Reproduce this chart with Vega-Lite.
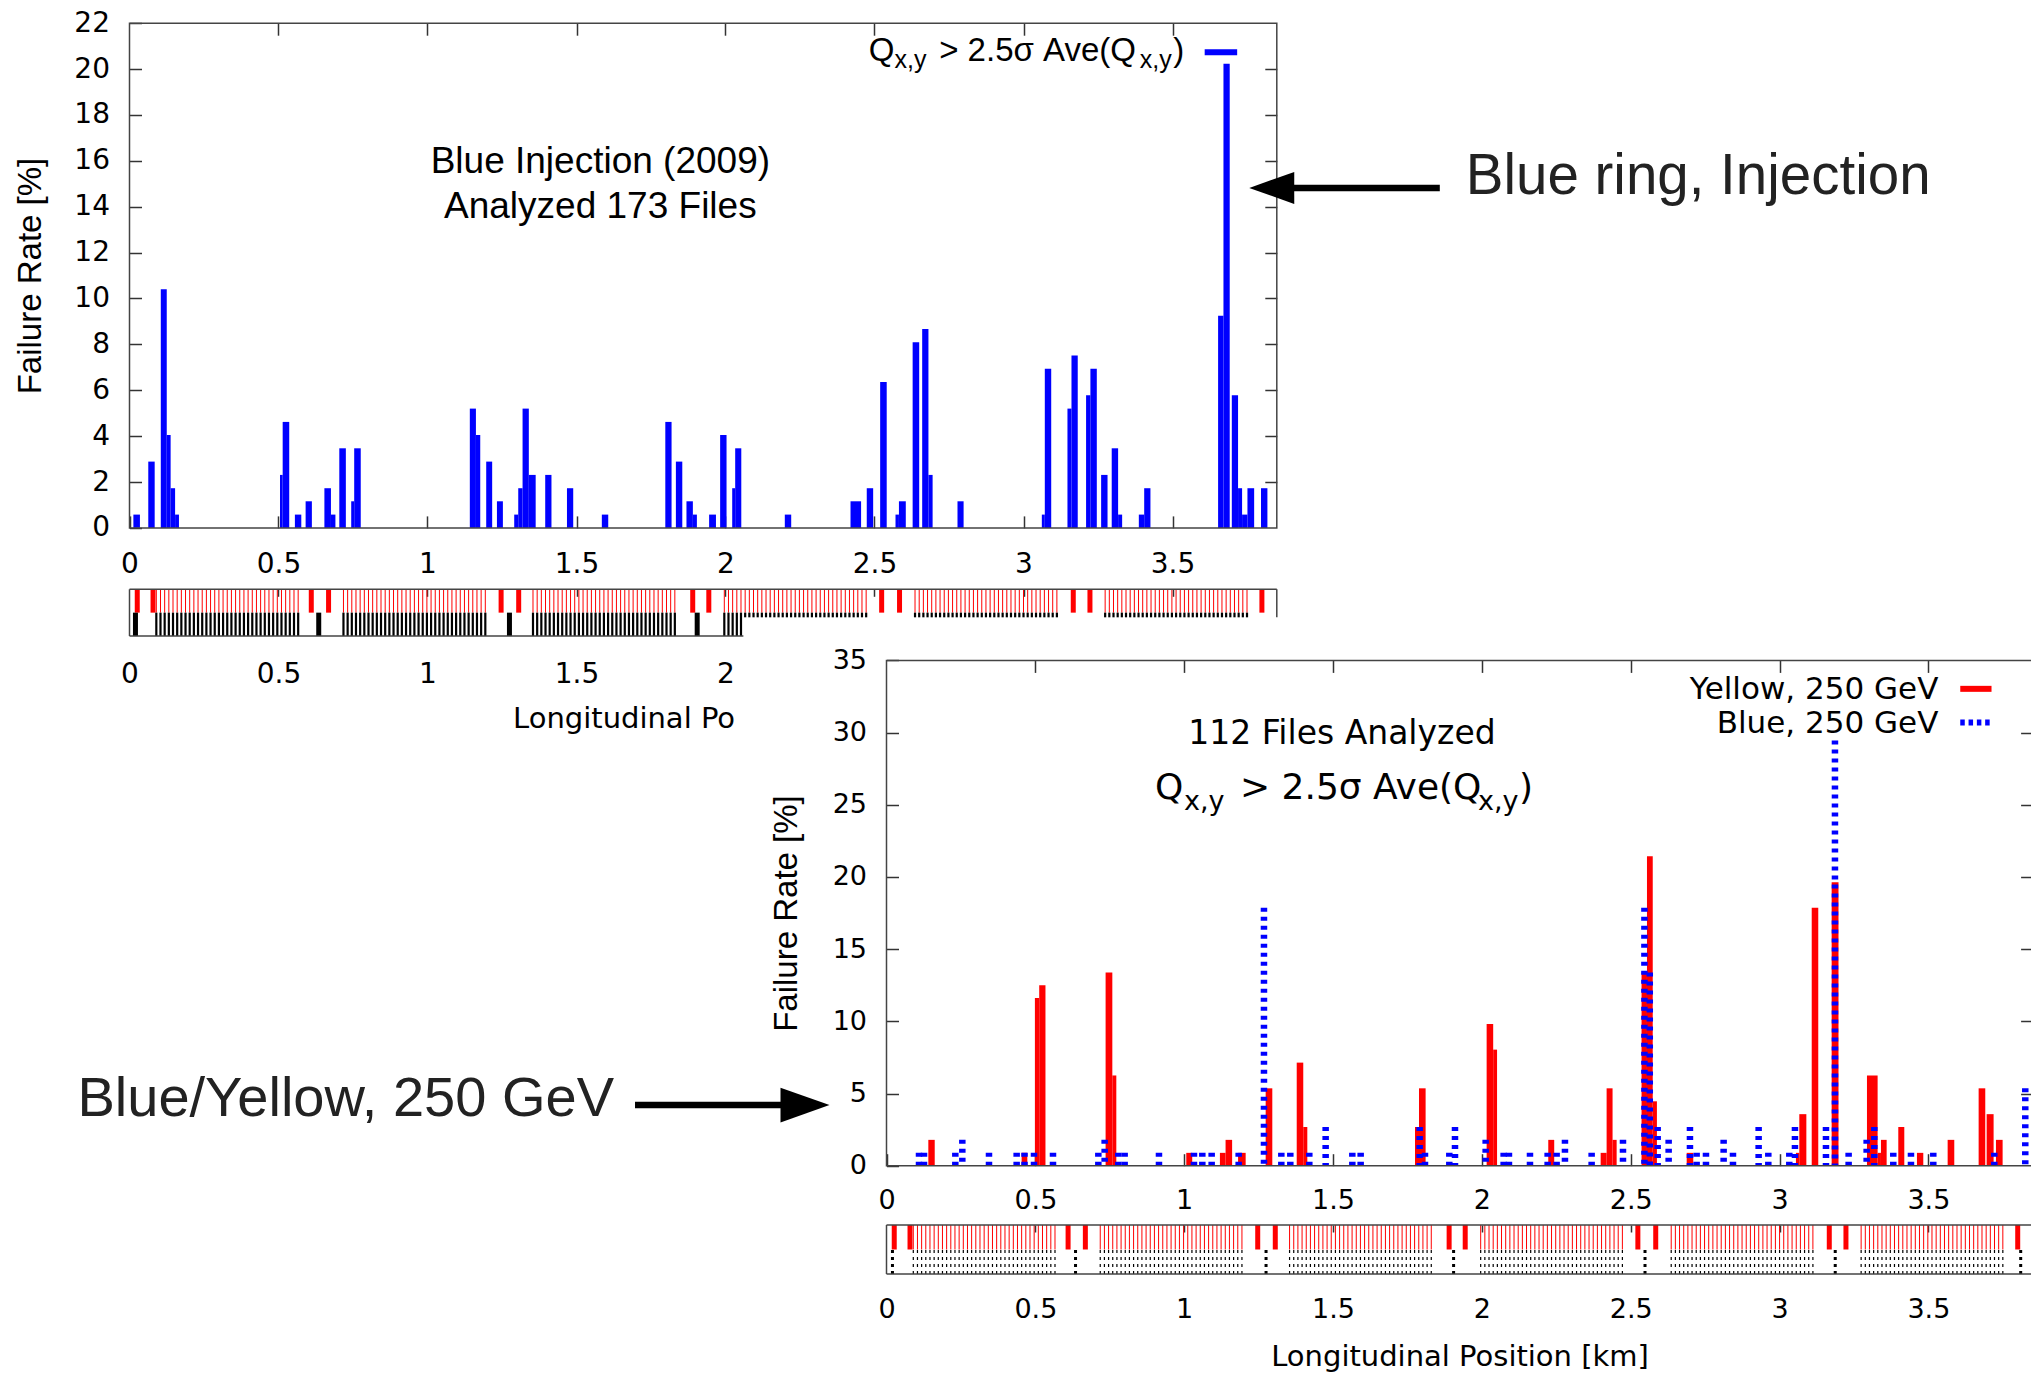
{
"$schema": "https://vega.github.io/schema/vega-lite/v6.json",
"width": 2031, "height": 1376, "autosize": "none", "padding": 0, "background": "white",
"config": {
  "view": {"stroke": null},
  "axis": {"grid": false, "domain": false, "labelFlush": false, "labelOverlap": false, "tickColor": "#333", "tickWidth": 1.5, "labelColor": "#000", "titleColor": "#000", "titleFontWeight": "normal", "labelFont": "DejaVu Sans", "titleFont": "Liberation Sans"},
  "text": {"font": "Liberation Sans", "color": "#000"}
},
"datasets": {
  "inj": [
    {"a":0.013,"b":0.035,"v":0.58},{"a":0.063,"b":0.0845,"v":2.89},{"a":0.105,"b":0.125,"v":10.40},{"a":0.125,"b":0.138,"v":4.05},{"a":0.138,"b":0.153,"v":1.73},{"a":0.153,"b":0.166,"v":0.58},
    {"a":0.505,"b":0.514,"v":2.31},{"a":0.514,"b":0.536,"v":4.62},{"a":0.555,"b":0.5765,"v":0.58},{"a":0.591,"b":0.612,"v":1.16},{"a":0.654,"b":0.676,"v":1.73},{"a":0.676,"b":0.691,"v":0.58},
    {"a":0.704,"b":0.726,"v":3.47},{"a":0.744,"b":0.754,"v":1.16},{"a":0.754,"b":0.776,"v":3.47},
    {"a":1.142,"b":1.1625,"v":5.20},{"a":1.1625,"b":1.177,"v":4.05},{"a":1.197,"b":1.217,"v":2.89},{"a":1.233,"b":1.253,"v":1.16},
    {"a":1.291,"b":1.3045,"v":0.58},{"a":1.3045,"b":1.319,"v":1.73},{"a":1.319,"b":1.340,"v":5.20},{"a":1.340,"b":1.363,"v":2.31},{"a":1.395,"b":1.416,"v":2.31},{"a":1.468,"b":1.489,"v":1.73},{"a":1.585,"b":1.6065,"v":0.58},
    {"a":1.798,"b":1.819,"v":4.62},{"a":1.8335,"b":1.855,"v":2.89},{"a":1.869,"b":1.8905,"v":1.16},{"a":1.8905,"b":1.904,"v":0.58},{"a":1.945,"b":1.968,"v":0.58},{"a":1.982,"b":2.0035,"v":4.05},{"a":2.0225,"b":2.0325,"v":1.73},{"a":2.0325,"b":2.053,"v":3.47},
    {"a":2.199,"b":2.2205,"v":0.58},{"a":2.4195,"b":2.455,"v":1.16},{"a":2.474,"b":2.4955,"v":1.73},{"a":2.519,"b":2.541,"v":6.36},{"a":2.5705,"b":2.582,"v":0.58},{"a":2.582,"b":2.605,"v":1.16},
    {"a":2.628,"b":2.650,"v":8.09},{"a":2.660,"b":2.681,"v":8.67},{"a":2.681,"b":2.695,"v":2.31},{"a":2.7785,"b":2.799,"v":1.16},
    {"a":3.0615,"b":3.0715,"v":0.58},{"a":3.0715,"b":3.093,"v":6.94},{"a":3.1475,"b":3.161,"v":5.20},{"a":3.161,"b":3.182,"v":7.51},{"a":3.210,"b":3.2245,"v":5.78},{"a":3.2245,"b":3.246,"v":6.94},
    {"a":3.2605,"b":3.282,"v":2.31},{"a":3.296,"b":3.3175,"v":3.47},{"a":3.3175,"b":3.331,"v":0.58},{"a":3.387,"b":3.405,"v":0.58},{"a":3.405,"b":3.426,"v":1.73},
    {"a":3.653,"b":3.671,"v":9.25},{"a":3.671,"b":3.692,"v":20.23},{"a":3.699,"b":3.720,"v":5.78},{"a":3.720,"b":3.7335,"v":1.73},{"a":3.7335,"b":3.7515,"v":0.58},{"a":3.7515,"b":3.774,"v":1.73},{"a":3.797,"b":3.8185,"v":1.73}
  ],
  "yel": [
    {"a":0.1405,"b":0.162,"v":1.79},{"a":0.454,"b":0.473,"v":0.89},{"a":0.4985,"b":0.513,"v":11.61},{"a":0.513,"b":0.534,"v":12.50},{"a":0.736,"b":0.7586,"v":13.39},{"a":0.7586,"b":0.772,"v":6.25},
    {"a":1.007,"b":1.027,"v":0.89},{"a":1.120,"b":1.139,"v":0.89},{"a":1.139,"b":1.161,"v":1.79},{"a":1.181,"b":1.2065,"v":0.89},{"a":1.2737,"b":1.296,"v":5.36},
    {"a":1.378,"b":1.400,"v":7.14},{"a":1.400,"b":1.4136,"v":2.68},{"a":1.7753,"b":1.7887,"v":2.68},{"a":1.7887,"b":1.811,"v":5.36},
    {"a":2.016,"b":2.038,"v":9.82},{"a":2.038,"b":2.051,"v":8.04},{"a":2.223,"b":2.243,"v":1.79},{"a":2.399,"b":2.419,"v":0.89},{"a":2.419,"b":2.439,"v":5.36},{"a":2.439,"b":2.4527,"v":1.79},
    {"a":2.5364,"b":2.5546,"v":13.39},{"a":2.5546,"b":2.574,"v":21.43},{"a":2.574,"b":2.588,"v":4.46},{"a":2.688,"b":2.710,"v":0.89},
    {"a":3.055,"b":3.0663,"v":0.89},{"a":3.0663,"b":3.090,"v":3.57},{"a":3.108,"b":3.130,"v":17.86},{"a":3.175,"b":3.198,"v":19.64},
    {"a":3.2936,"b":3.3294,"v":6.25},{"a":3.3294,"b":3.3406,"v":0.89},{"a":3.3406,"b":3.3597,"v":1.79},{"a":3.3988,"b":3.419,"v":2.68},{"a":3.4615,"b":3.4828,"v":0.89},
    {"a":3.5646,"b":3.5869,"v":1.79},{"a":3.6687,"b":3.691,"v":5.36},{"a":3.6956,"b":3.719,"v":3.57},{"a":3.7269,"b":3.7493,"v":1.79}
  ],
  "blu": [
    {"c":0.1092,"v":0.89},{"c":0.126,"v":0.89},{"c":0.2312,"v":0.89},{"c":0.2547,"v":1.79},{"c":0.3443,"v":0.89},{"c":0.4372,"v":0.89},{"c":0.4636,"v":0.89},{"c":0.4955,"v":0.89},{"c":0.5593,"v":0.89},
    {"c":0.7116,"v":0.89},{"c":0.7328,"v":1.79},{"c":0.7787,"v":0.89},{"c":0.800,"v":0.89},{"c":0.9153,"v":0.89},{"c":1.0329,"v":0.89},{"c":1.0609,"v":0.89},{"c":1.0923,"v":0.89},{"c":1.183,"v":0.89},
    {"c":1.268,"v":17.86},{"c":1.3263,"v":0.89},{"c":1.3565,"v":0.89},{"c":1.4203,"v":0.89},{"c":1.4752,"v":2.68},{"c":1.5648,"v":0.89},{"c":1.5928,"v":0.89},
    {"c":1.791,"v":2.68},{"c":1.8089,"v":0.89},{"c":1.8906,"v":0.89},{"c":1.9097,"v":2.68},{"c":2.0127,"v":1.79},{"c":2.0731,"v":0.89},{"c":2.091,"v":0.89},{"c":2.1616,"v":0.89},
    {"c":2.2209,"v":0.89},{"c":2.2511,"v":0.89},{"c":2.2791,"v":1.79},{"c":2.3687,"v":0.89},{"c":2.474,"v":1.79},{"c":2.546,"v":17.86},{"c":2.564,"v":13.39},{"c":2.5905,"v":2.68},
    {"c":2.6274,"v":1.79},{"c":2.699,"v":2.68},{"c":2.7214,"v":0.89},{"c":2.7528,"v":0.89},{"c":2.8121,"v":1.79},{"c":2.8435,"v":0.89},{"c":2.9297,"v":2.68},{"c":2.9622,"v":0.89},
    {"c":3.0327,"v":0.89},{"c":3.0517,"v":2.68},{"c":3.1559,"v":2.68},{"c":3.1861,"v":29.46},{"c":3.232,"v":0.89},{"c":3.2925,"v":1.79},{"c":3.3182,"v":2.68},{"c":3.382,"v":0.89},
    {"c":3.4414,"v":0.89},{"c":3.5164,"v":0.89},{"c":3.7213,"v":0.89},{"c":3.8254,"v":5.36}
  ],
  "lat": [
    {"s":0.090},{"s":0.104},{"s":0.118},{"s":0.132},{"s":0.146},{"s":0.160},{"s":0.174},{"s":0.188},{"s":0.202},{"s":0.216},{"s":0.230},{"s":0.244},{"s":0.258},{"s":0.272},{"s":0.286},{"s":0.300},{"s":0.314},{"s":0.328},{"s":0.342},{"s":0.356},{"s":0.370},{"s":0.384},{"s":0.398},{"s":0.412},{"s":0.426},{"s":0.440},{"s":0.454},{"s":0.468},{"s":0.482},{"s":0.496},{"s":0.510},{"s":0.524},{"s":0.538},{"s":0.552},{"s":0.566},
    {"s":0.718},{"s":0.732},{"s":0.746},{"s":0.760},{"s":0.774},{"s":0.788},{"s":0.802},{"s":0.816},{"s":0.830},{"s":0.844},{"s":0.858},{"s":0.872},{"s":0.886},{"s":0.900},{"s":0.914},{"s":0.928},{"s":0.942},{"s":0.956},{"s":0.970},{"s":0.984},{"s":0.998},{"s":1.012},{"s":1.026},{"s":1.040},{"s":1.054},{"s":1.068},{"s":1.082},{"s":1.096},{"s":1.110},{"s":1.124},{"s":1.138},{"s":1.152},{"s":1.166},{"s":1.180},{"s":1.194},
    {"s":1.354},{"s":1.368},{"s":1.382},{"s":1.396},{"s":1.410},{"s":1.424},{"s":1.438},{"s":1.452},{"s":1.466},{"s":1.480},{"s":1.494},{"s":1.508},{"s":1.522},{"s":1.536},{"s":1.550},{"s":1.564},{"s":1.578},{"s":1.592},{"s":1.606},{"s":1.620},{"s":1.634},{"s":1.648},{"s":1.662},{"s":1.676},{"s":1.690},{"s":1.704},{"s":1.718},{"s":1.732},{"s":1.746},{"s":1.760},{"s":1.774},{"s":1.788},{"s":1.802},{"s":1.816},{"s":1.830},
    {"s":1.996},{"s":2.010},{"s":2.024},{"s":2.038},{"s":2.052},{"s":2.066},{"s":2.080},{"s":2.094},{"s":2.108},{"s":2.122},{"s":2.136},{"s":2.150},{"s":2.164},{"s":2.178},{"s":2.192},{"s":2.206},{"s":2.220},{"s":2.234},{"s":2.248},{"s":2.262},{"s":2.276},{"s":2.290},{"s":2.304},{"s":2.318},{"s":2.332},{"s":2.346},{"s":2.360},{"s":2.374},{"s":2.388},{"s":2.402},{"s":2.416},{"s":2.430},{"s":2.444},{"s":2.458},{"s":2.472},
    {"s":2.636},{"s":2.650},{"s":2.664},{"s":2.678},{"s":2.692},{"s":2.706},{"s":2.720},{"s":2.734},{"s":2.748},{"s":2.762},{"s":2.776},{"s":2.790},{"s":2.804},{"s":2.818},{"s":2.832},{"s":2.846},{"s":2.860},{"s":2.874},{"s":2.888},{"s":2.902},{"s":2.916},{"s":2.930},{"s":2.944},{"s":2.958},{"s":2.972},{"s":2.986},{"s":3.000},{"s":3.014},{"s":3.028},{"s":3.042},{"s":3.056},{"s":3.070},{"s":3.084},{"s":3.098},{"s":3.112},
    {"s":3.274},{"s":3.288},{"s":3.302},{"s":3.316},{"s":3.330},{"s":3.344},{"s":3.358},{"s":3.372},{"s":3.386},{"s":3.400},{"s":3.414},{"s":3.428},{"s":3.442},{"s":3.456},{"s":3.470},{"s":3.484},{"s":3.498},{"s":3.512},{"s":3.526},{"s":3.540},{"s":3.554},{"s":3.568},{"s":3.582},{"s":3.596},{"s":3.610},{"s":3.624},{"s":3.638},{"s":3.652},{"s":3.666},{"s":3.680},{"s":3.694},{"s":3.708},{"s":3.722},{"s":3.736},{"s":3.750}
  ],
  "thk": [{"s":0.026},{"s":0.079},{"s":0.61},{"s":0.668},{"s":1.247},{"s":1.306},{"s":1.89},{"s":1.944},{"s":2.524},{"s":2.584},{"s":3.167},{"s":3.223},{"s":3.80}],
  "irb": [{"s":0.02},{"s":0.635},{"s":1.275},{"s":1.905},{"s":2.548},{"s":3.187},{"s":3.81}]
},
"layer": [
 {
  "layer": [
   {"data": {"name": "inj"}, "mark": {"type": "rect", "color": "#0000ff"},
    "encoding": {
     "x": {"field": "a", "type": "quantitative", "scale": {"domain": [0, 3.85], "range": [129.5, 1276.8], "nice": false, "zero": false},
           "axis": {"orient": "bottom", "offset": -848.1, "values": [0,0.5,1,1.5,2,2.5,3,3.5], "format": ".2~g", "tickSize": -12, "labelPadding": 35, "labelFontSize": 28, "title": null}},
     "x2": {"field": "b"},
     "y": {"field": "v", "type": "quantitative", "scale": {"domain": [0, 22], "range": [527.9, 23.2], "nice": false, "zero": false},
           "axis": {"orient": "left", "offset": -129.5, "values": [0,2,4,6,8,10,12,14,16,18,20,22], "format": "d", "tickSize": -12, "labelPadding": 32, "labelFontSize": 28, "title": "Failure Rate [%]", "titleFontSize": 33, "titlePadding": 26}},
     "y2": {"datum": 0}}},
   {"data": {"values": [{}]}, "mark": {"type": "rect", "fill": "transparent", "stroke": "#444", "strokeWidth": 1.5},
    "encoding": {
     "x": {"datum": 0, "type": "quantitative", "scale": {"domain": [0, 3.85], "range": [129.5, 1276.8], "nice": false, "zero": false},
           "axis": {"orient": "top", "offset": -23.2, "values": [0.5,1,1.5,2,2.5,3,3.5], "tickSize": -12, "labels": false, "title": null}},
     "x2": {"datum": 3.85},
     "y": {"datum": 0, "type": "quantitative", "scale": {"domain": [0, 22], "range": [527.9, 23.2], "nice": false, "zero": false},
           "axis": {"orient": "right", "offset": -754.2, "values": [2,4,6,8,10,12,14,16,18,20], "tickSize": -12, "labels": false, "title": null}},
     "y2": {"datum": 22}}},
   {"data": {"values": [{}]}, "mark": {"type": "text", "text": "Blue Injection (2009)", "fontSize": 37, "align": "center", "baseline": "alphabetic"},
    "encoding": {"x": {"datum": 1.58, "type": "quantitative", "scale": {"domain": [0, 3.85], "range": [129.5, 1276.8], "nice": false, "zero": false}, "axis": null},
                 "y": {"datum": 15.46, "type": "quantitative", "scale": {"domain": [0, 22], "range": [527.9, 23.2], "nice": false, "zero": false}, "axis": null}}},
   {"data": {"values": [{}]}, "mark": {"type": "text", "text": "Analyzed 173 Files", "fontSize": 37, "align": "center", "baseline": "alphabetic"},
    "encoding": {"x": {"datum": 1.58, "type": "quantitative", "scale": {"domain": [0, 3.85], "range": [129.5, 1276.8], "nice": false, "zero": false}, "axis": null},
                 "y": {"datum": 13.52, "type": "quantitative", "scale": {"domain": [0, 22], "range": [527.9, 23.2], "nice": false, "zero": false}, "axis": null}}},
   {"data": {"values": [{}]}, "mark": {"type": "text", "text": "Q", "fontSize": 33, "align": "left", "baseline": "alphabetic"},
    "encoding": {"x": {"datum": 2.4811, "type": "quantitative", "scale": {"domain": [0, 3.85], "range": [129.5, 1276.8], "nice": false, "zero": false}, "axis": null},
                 "y": {"datum": 20.37, "type": "quantitative", "scale": {"domain": [0, 22], "range": [527.9, 23.2], "nice": false, "zero": false}, "axis": null}}},
   {"data": {"values": [{}]}, "mark": {"type": "text", "text": "x,y", "fontSize": 25, "align": "left", "baseline": "alphabetic"},
    "encoding": {"x": {"datum": 2.5669, "type": "quantitative", "scale": {"domain": [0, 3.85], "range": [129.5, 1276.8], "nice": false, "zero": false}, "axis": null},
                 "y": {"datum": 20.06, "type": "quantitative", "scale": {"domain": [0, 22], "range": [527.9, 23.2], "nice": false, "zero": false}, "axis": null}}},
   {"data": {"values": [{}]}, "mark": {"type": "text", "text": "> 2.5σ Ave(Q", "fontSize": 33, "align": "left", "baseline": "alphabetic"},
    "encoding": {"x": {"datum": 2.717, "type": "quantitative", "scale": {"domain": [0, 3.85], "range": [129.5, 1276.8], "nice": false, "zero": false}, "axis": null},
                 "y": {"datum": 20.37, "type": "quantitative", "scale": {"domain": [0, 22], "range": [527.9, 23.2], "nice": false, "zero": false}, "axis": null}}},
   {"data": {"values": [{}]}, "mark": {"type": "text", "text": "x,y", "fontSize": 25, "align": "left", "baseline": "alphabetic"},
    "encoding": {"x": {"datum": 3.3902, "type": "quantitative", "scale": {"domain": [0, 3.85], "range": [129.5, 1276.8], "nice": false, "zero": false}, "axis": null},
                 "y": {"datum": 20.06, "type": "quantitative", "scale": {"domain": [0, 22], "range": [527.9, 23.2], "nice": false, "zero": false}, "axis": null}}},
   {"data": {"values": [{}]}, "mark": {"type": "text", "text": ")", "fontSize": 33, "align": "left", "baseline": "alphabetic"},
    "encoding": {"x": {"datum": 3.5029, "type": "quantitative", "scale": {"domain": [0, 3.85], "range": [129.5, 1276.8], "nice": false, "zero": false}, "axis": null},
                 "y": {"datum": 20.37, "type": "quantitative", "scale": {"domain": [0, 22], "range": [527.9, 23.2], "nice": false, "zero": false}, "axis": null}}},
   {"data": {"values": [{}]}, "mark": {"type": "rule", "stroke": "#0000ff", "strokeWidth": 6},
    "encoding": {"x": {"datum": 3.608, "type": "quantitative", "scale": {"domain": [0, 3.85], "range": [129.5, 1276.8], "nice": false, "zero": false}, "axis": null},
                 "x2": {"datum": 3.717},
                 "y": {"datum": 20.73, "type": "quantitative", "scale": {"domain": [0, 22], "range": [527.9, 23.2], "nice": false, "zero": false}, "axis": null}}},
   {"data": {"values": [{}]}, "mark": {"type": "rule", "stroke": "#000", "strokeWidth": 6.5},
    "encoding": {"x": {"datum": 3.833, "type": "quantitative", "scale": {"domain": [0, 3.85], "range": [129.5, 1276.8], "nice": false, "zero": false}, "axis": null},
                 "x2": {"datum": 4.397},
                 "y": {"datum": 14.82, "type": "quantitative", "scale": {"domain": [0, 22], "range": [527.9, 23.2], "nice": false, "zero": false}, "axis": null}}},
   {"data": {"values": [{}]}, "mark": {"type": "point", "shape": "M-1,0L1,-0.71L1,0.71Z", "size": 2025, "filled": true, "color": "#000", "opacity": 1, "strokeWidth": 0},
    "encoding": {"x": {"datum": 3.833, "type": "quantitative", "scale": {"domain": [0, 3.85], "range": [129.5, 1276.8], "nice": false, "zero": false}, "axis": null},
                 "y": {"datum": 14.82, "type": "quantitative", "scale": {"domain": [0, 22], "range": [527.9, 23.2], "nice": false, "zero": false}, "axis": null}}},
   {"data": {"values": [{}]}, "mark": {"type": "text", "text": "Blue ring, Injection", "fontSize": 56.5, "align": "left", "baseline": "alphabetic", "color": "#222"},
    "encoding": {"x": {"datum": 4.484, "type": "quantitative", "scale": {"domain": [0, 3.85], "range": [129.5, 1276.8], "nice": false, "zero": false}, "axis": null},
                 "y": {"datum": 14.56, "type": "quantitative", "scale": {"domain": [0, 22], "range": [527.9, 23.2], "nice": false, "zero": false}, "axis": null}}}
  ],
  "resolve": {"scale": {"x": "shared", "y": "shared"}, "axis": {"x": "independent", "y": "independent"}}
 },
 {
  "layer": [
   {"data": {"name": "lat"}, "mark": {"type": "rule", "stroke": "#ff0000", "strokeWidth": 1},
    "encoding": {
     "x": {"field": "s", "type": "quantitative", "scale": {"domain": [0, 3.85], "range": [129.5, 1276.8], "nice": false, "zero": false},
           "axis": {"orient": "bottom", "offset": -740, "values": [0,0.5,1,1.5,2], "format": ".2~g", "ticks": false, "labelPadding": 24, "labelFontSize": 28, "title": null}},
     "y": {"datum": 1, "type": "quantitative", "scale": {"domain": [0, 2], "range": [636, 589.3], "nice": false, "zero": false}, "axis": null},
     "y2": {"datum": 2}}},
   {"data": {"name": "thk"}, "mark": {"type": "rule", "stroke": "#ff0000", "strokeWidth": 5},
    "encoding": {
     "x": {"field": "s", "type": "quantitative", "scale": {"domain": [0, 3.85], "range": [129.5, 1276.8], "nice": false, "zero": false}, "axis": null},
     "y": {"datum": 1, "type": "quantitative", "scale": {"domain": [0, 2], "range": [636, 589.3], "nice": false, "zero": false}, "axis": null},
     "y2": {"datum": 2}}},
   {"data": {"name": "lat"}, "transform": [{"filter": "datum.s < 2.06"}], "mark": {"type": "rule", "stroke": "#000", "strokeWidth": 2.2},
    "encoding": {
     "x": {"field": "s", "type": "quantitative", "scale": {"domain": [0, 3.85], "range": [129.5, 1276.8], "nice": false, "zero": false}, "axis": null},
     "y": {"datum": 0, "type": "quantitative", "scale": {"domain": [0, 2], "range": [636, 589.3], "nice": false, "zero": false}, "axis": null},
     "y2": {"datum": 1}}},
   {"data": {"name": "lat"}, "transform": [{"filter": "datum.s >= 2.06"}], "mark": {"type": "rule", "stroke": "#000", "strokeWidth": 2.2},
    "encoding": {
     "x": {"field": "s", "type": "quantitative", "scale": {"domain": [0, 3.85], "range": [129.5, 1276.8], "nice": false, "zero": false}, "axis": null},
     "y": {"datum": 0.8, "type": "quantitative", "scale": {"domain": [0, 2], "range": [636, 589.3], "nice": false, "zero": false}, "axis": null},
     "y2": {"datum": 1}}},
   {"data": {"name": "irb"}, "transform": [{"filter": "datum.s < 2.06"}], "mark": {"type": "rule", "stroke": "#000", "strokeWidth": 5},
    "encoding": {
     "x": {"field": "s", "type": "quantitative", "scale": {"domain": [0, 3.85], "range": [129.5, 1276.8], "nice": false, "zero": false}, "axis": null},
     "y": {"datum": 0, "type": "quantitative", "scale": {"domain": [0, 2], "range": [636, 589.3], "nice": false, "zero": false}, "axis": null},
     "y2": {"datum": 1}}},
   {"data": {"values": [{}]}, "mark": {"type": "rule", "stroke": "#444", "strokeWidth": 1.5},
    "encoding": {
     "x": {"datum": 0, "type": "quantitative", "scale": {"domain": [0, 3.85], "range": [129.5, 1276.8], "nice": false, "zero": false},
           "axis": {"orient": "top", "offset": -589.3, "values": [0.5,1,1.5,2,2.5,3,3.5], "tickSize": -7, "labels": false, "title": null}},
     "x2": {"datum": 3.85},
     "y": {"datum": 2, "type": "quantitative", "scale": {"domain": [0, 2], "range": [636, 589.3], "nice": false, "zero": false}, "axis": null}}},
   {"data": {"values": [{}]}, "mark": {"type": "rule", "stroke": "#444", "strokeWidth": 1.5},
    "encoding": {
     "x": {"datum": 0, "type": "quantitative", "scale": {"domain": [0, 3.85], "range": [129.5, 1276.8], "nice": false, "zero": false}, "axis": null},
     "x2": {"datum": 2.06},
     "y": {"datum": 0, "type": "quantitative", "scale": {"domain": [0, 2], "range": [636, 589.3], "nice": false, "zero": false}, "axis": null}}},
   {"data": {"values": [{}]}, "mark": {"type": "rule", "stroke": "#444", "strokeWidth": 1.5},
    "encoding": {
     "x": {"datum": 0, "type": "quantitative", "scale": {"domain": [0, 3.85], "range": [129.5, 1276.8], "nice": false, "zero": false}, "axis": null},
     "y": {"datum": 0, "type": "quantitative", "scale": {"domain": [0, 2], "range": [636, 589.3], "nice": false, "zero": false}, "axis": null},
     "y2": {"datum": 2}}},
   {"data": {"values": [{}]}, "mark": {"type": "rule", "stroke": "#444", "strokeWidth": 1.5},
    "encoding": {
     "x": {"datum": 3.85, "type": "quantitative", "scale": {"domain": [0, 3.85], "range": [129.5, 1276.8], "nice": false, "zero": false}, "axis": null},
     "y": {"datum": 0.8, "type": "quantitative", "scale": {"domain": [0, 2], "range": [636, 589.3], "nice": false, "zero": false}, "axis": null},
     "y2": {"datum": 2}}},
   {"data": {"values": [{}]}, "mark": {"type": "text", "text": "Longitudinal Po", "font": "DejaVu Sans", "fontSize": 29, "align": "left", "baseline": "middle"},
    "encoding": {
     "x": {"datum": 1.287, "type": "quantitative", "scale": {"domain": [0, 3.85], "range": [129.5, 1276.8], "nice": false, "zero": false}, "axis": null},
     "y": {"datum": -3.555, "type": "quantitative", "scale": {"domain": [0, 2], "range": [636, 589.3], "nice": false, "zero": false}, "axis": null}}}
  ],
  "resolve": {"scale": {"x": "shared", "y": "shared"}, "axis": {"x": "independent", "y": "independent"}}
 },
 {
  "layer": [
   {"data": {"name": "yel"}, "mark": {"type": "rect", "color": "#ff0000"},
    "encoding": {
     "x": {"field": "a", "type": "quantitative", "scale": {"domain": [0, 3.85], "range": [886.5, 2032.6], "nice": false, "zero": false},
           "axis": {"orient": "bottom", "offset": -210.3, "values": [0,0.5,1,1.5,2,2.5,3,3.5], "format": ".2~g", "tickSize": -12, "labelPadding": 34, "labelFontSize": 27, "title": null}},
     "x2": {"field": "b"},
     "y": {"field": "v", "type": "quantitative", "scale": {"domain": [0, 35], "range": [1165.7, 660.4], "nice": false, "zero": false},
           "axis": {"orient": "left", "offset": -886.5, "values": [0,5,10,15,20,25,30,35], "format": "d", "tickSize": -12, "labelPadding": 32, "labelFontSize": 27, "title": "Failure Rate [%]", "titleFontSize": 33, "titlePadding": 29}},
     "y2": {"datum": 0}}},
   {"data": {"name": "blu"}, "mark": {"type": "rule", "stroke": "#0000ff", "strokeWidth": 6.5, "strokeDash": [4, 5], "strokeCap": "butt"},
    "encoding": {
     "x": {"field": "c", "type": "quantitative", "scale": {"domain": [0, 3.85], "range": [886.5, 2032.6], "nice": false, "zero": false}, "axis": null},
     "y": {"field": "v", "type": "quantitative", "scale": {"domain": [0, 35], "range": [1165.7, 660.4], "nice": false, "zero": false}, "axis": null},
     "y2": {"datum": 0}}},
   {"data": {"values": [{}]}, "mark": {"type": "rect", "fill": "transparent", "stroke": "#444", "strokeWidth": 1.5},
    "encoding": {
     "x": {"datum": 0, "type": "quantitative", "scale": {"domain": [0, 3.85], "range": [886.5, 2032.6], "nice": false, "zero": false},
           "axis": {"orient": "top", "offset": -660.4, "values": [0.5,1,1.5,2,2.5,3,3.5], "tickSize": -12, "labels": false, "title": null}},
     "x2": {"datum": 3.85},
     "y": {"datum": 0, "type": "quantitative", "scale": {"domain": [0, 35], "range": [1165.7, 660.4], "nice": false, "zero": false},
           "axis": {"orient": "right", "offset": 1.6, "values": [5,10,15,20,25,30], "tickSize": -12, "labels": false, "title": null}},
     "y2": {"datum": 35}}},
   {"data": {"values": [{}]}, "mark": {"type": "text", "text": "112 Files Analyzed", "font": "DejaVu Sans", "fontSize": 33, "align": "center", "baseline": "alphabetic"},
    "encoding": {"x": {"datum": 1.53, "type": "quantitative", "scale": {"domain": [0, 3.85], "range": [886.5, 2032.6], "nice": false, "zero": false}, "axis": null},
                 "y": {"datum": 29.18, "type": "quantitative", "scale": {"domain": [0, 35], "range": [1165.7, 660.4], "nice": false, "zero": false}, "axis": null}}},
   {"data": {"values": [{}]}, "mark": {"type": "text", "text": "Q", "font": "DejaVu Sans", "fontSize": 36, "align": "left", "baseline": "alphabetic"},
    "encoding": {"x": {"datum": 0.9019, "type": "quantitative", "scale": {"domain": [0, 3.85], "range": [886.5, 2032.6], "nice": false, "zero": false}, "axis": null},
                 "y": {"datum": 25.40, "type": "quantitative", "scale": {"domain": [0, 35], "range": [1165.7, 660.4], "nice": false, "zero": false}, "axis": null}}},
   {"data": {"values": [{}]}, "mark": {"type": "text", "text": "x,y", "font": "DejaVu Sans", "fontSize": 27, "align": "left", "baseline": "alphabetic"},
    "encoding": {"x": {"datum": 0.9993, "type": "quantitative", "scale": {"domain": [0, 3.85], "range": [886.5, 2032.6], "nice": false, "zero": false}, "axis": null},
                 "y": {"datum": 24.66, "type": "quantitative", "scale": {"domain": [0, 35], "range": [1165.7, 660.4], "nice": false, "zero": false}, "axis": null}}},
   {"data": {"values": [{}]}, "mark": {"type": "text", "text": "> 2.5σ Ave(Q", "font": "DejaVu Sans", "fontSize": 36, "align": "left", "baseline": "alphabetic"},
    "encoding": {"x": {"datum": 1.1874, "type": "quantitative", "scale": {"domain": [0, 3.85], "range": [886.5, 2032.6], "nice": false, "zero": false}, "axis": null},
                 "y": {"datum": 25.40, "type": "quantitative", "scale": {"domain": [0, 35], "range": [1165.7, 660.4], "nice": false, "zero": false}, "axis": null}}},
   {"data": {"values": [{}]}, "mark": {"type": "text", "text": "x,y", "font": "DejaVu Sans", "fontSize": 27, "align": "left", "baseline": "alphabetic"},
    "encoding": {"x": {"datum": 1.9869, "type": "quantitative", "scale": {"domain": [0, 3.85], "range": [886.5, 2032.6], "nice": false, "zero": false}, "axis": null},
                 "y": {"datum": 24.66, "type": "quantitative", "scale": {"domain": [0, 35], "range": [1165.7, 660.4], "nice": false, "zero": false}, "axis": null}}},
   {"data": {"values": [{}]}, "mark": {"type": "text", "text": ")", "font": "DejaVu Sans", "fontSize": 36, "align": "left", "baseline": "alphabetic"},
    "encoding": {"x": {"datum": 2.125, "type": "quantitative", "scale": {"domain": [0, 3.85], "range": [886.5, 2032.6], "nice": false, "zero": false}, "axis": null},
                 "y": {"datum": 25.40, "type": "quantitative", "scale": {"domain": [0, 35], "range": [1165.7, 660.4], "nice": false, "zero": false}, "axis": null}}},
   {"data": {"values": [{}]}, "mark": {"type": "text", "text": "Yellow, 250 GeV", "font": "DejaVu Sans", "fontSize": 31, "align": "right", "baseline": "alphabetic"},
    "encoding": {"x": {"datum": 3.5334, "type": "quantitative", "scale": {"domain": [0, 3.85], "range": [886.5, 2032.6], "nice": false, "zero": false}, "axis": null},
                 "y": {"datum": 32.32, "type": "quantitative", "scale": {"domain": [0, 35], "range": [1165.7, 660.4], "nice": false, "zero": false}, "axis": null}}},
   {"data": {"values": [{}]}, "mark": {"type": "text", "text": "Blue, 250 GeV", "font": "DejaVu Sans", "fontSize": 31, "align": "right", "baseline": "alphabetic"},
    "encoding": {"x": {"datum": 3.5334, "type": "quantitative", "scale": {"domain": [0, 3.85], "range": [886.5, 2032.6], "nice": false, "zero": false}, "axis": null},
                 "y": {"datum": 29.98, "type": "quantitative", "scale": {"domain": [0, 35], "range": [1165.7, 660.4], "nice": false, "zero": false}, "axis": null}}},
   {"data": {"values": [{}]}, "mark": {"type": "rule", "stroke": "#ff0000", "strokeWidth": 6},
    "encoding": {"x": {"datum": 3.607, "type": "quantitative", "scale": {"domain": [0, 3.85], "range": [886.5, 2032.6], "nice": false, "zero": false}, "axis": null},
                 "x2": {"datum": 3.712},
                 "y": {"datum": 33.03, "type": "quantitative", "scale": {"domain": [0, 35], "range": [1165.7, 660.4], "nice": false, "zero": false}, "axis": null}}},
   {"data": {"values": [{}]}, "mark": {"type": "rule", "stroke": "#0000ff", "strokeWidth": 6, "strokeDash": [4.5, 3.8]},
    "encoding": {"x": {"datum": 3.607, "type": "quantitative", "scale": {"domain": [0, 3.85], "range": [886.5, 2032.6], "nice": false, "zero": false}, "axis": null},
                 "x2": {"datum": 3.712},
                 "y": {"datum": 30.69, "type": "quantitative", "scale": {"domain": [0, 35], "range": [1165.7, 660.4], "nice": false, "zero": false}, "axis": null}}},
   {"data": {"values": [{}]}, "mark": {"type": "rule", "stroke": "#000", "strokeWidth": 6.5},
    "encoding": {"x": {"datum": -0.8448, "type": "quantitative", "scale": {"domain": [0, 3.85], "range": [886.5, 2032.6], "nice": false, "zero": false}, "axis": null},
                 "x2": {"datum": -0.2738},
                 "y": {"datum": 4.2, "type": "quantitative", "scale": {"domain": [0, 35], "range": [1165.7, 660.4], "nice": false, "zero": false}, "axis": null}}},
   {"data": {"values": [{}]}, "mark": {"type": "point", "shape": "M1,0L-1,-0.71L-1,0.71Z", "size": 2401, "filled": true, "color": "#000", "opacity": 1, "strokeWidth": 0},
    "encoding": {"x": {"datum": -0.2738, "type": "quantitative", "scale": {"domain": [0, 3.85], "range": [886.5, 2032.6], "nice": false, "zero": false}, "axis": null},
                 "y": {"datum": 4.2, "type": "quantitative", "scale": {"domain": [0, 35], "range": [1165.7, 660.4], "nice": false, "zero": false}, "axis": null}}},
   {"data": {"values": [{}]}, "mark": {"type": "text", "text": "Blue/Yellow, 250 GeV", "fontSize": 56, "align": "right", "baseline": "alphabetic", "color": "#222"},
    "encoding": {"x": {"datum": -0.9153, "type": "quantitative", "scale": {"domain": [0, 3.85], "range": [886.5, 2032.6], "nice": false, "zero": false}, "axis": null},
                 "y": {"datum": 3.41, "type": "quantitative", "scale": {"domain": [0, 35], "range": [1165.7, 660.4], "nice": false, "zero": false}, "axis": null}}}
  ],
  "resolve": {"scale": {"x": "shared", "y": "shared"}, "axis": {"x": "independent", "y": "independent"}}
 },
 {
  "layer": [
   {"data": {"name": "lat"}, "mark": {"type": "rule", "stroke": "#ff0000", "strokeWidth": 1},
    "encoding": {
     "x": {"field": "s", "type": "quantitative", "scale": {"domain": [0, 3.85], "range": [886.5, 2032.6], "nice": false, "zero": false},
           "axis": {"orient": "bottom", "offset": -102, "values": [0,0.5,1,1.5,2,2.5,3,3.5], "format": ".2~g", "ticks": false, "labelPadding": 22, "labelFontSize": 27, "title": "Longitudinal Position [km]", "titleFont": "DejaVu Sans", "titleFontSize": 29, "titlePadding": 20}},
     "y": {"datum": 1, "type": "quantitative", "scale": {"domain": [0, 2], "range": [1274, 1225], "nice": false, "zero": false}, "axis": null},
     "y2": {"datum": 2}}},
   {"data": {"name": "thk"}, "mark": {"type": "rule", "stroke": "#ff0000", "strokeWidth": 5},
    "encoding": {
     "x": {"field": "s", "type": "quantitative", "scale": {"domain": [0, 3.85], "range": [886.5, 2032.6], "nice": false, "zero": false}, "axis": null},
     "y": {"datum": 1, "type": "quantitative", "scale": {"domain": [0, 2], "range": [1274, 1225], "nice": false, "zero": false}, "axis": null},
     "y2": {"datum": 2}}},
   {"data": {"name": "lat"}, "mark": {"type": "rule", "stroke": "#000", "strokeWidth": 1.2, "strokeDash": [3, 4]},
    "encoding": {
     "x": {"field": "s", "type": "quantitative", "scale": {"domain": [0, 3.85], "range": [886.5, 2032.6], "nice": false, "zero": false}, "axis": null},
     "y": {"datum": 0, "type": "quantitative", "scale": {"domain": [0, 2], "range": [1274, 1225], "nice": false, "zero": false}, "axis": null},
     "y2": {"datum": 1}}},
   {"data": {"name": "irb"}, "mark": {"type": "rule", "stroke": "#000", "strokeWidth": 3, "strokeDash": [3, 4]},
    "encoding": {
     "x": {"field": "s", "type": "quantitative", "scale": {"domain": [0, 3.85], "range": [886.5, 2032.6], "nice": false, "zero": false}, "axis": null},
     "y": {"datum": 0, "type": "quantitative", "scale": {"domain": [0, 2], "range": [1274, 1225], "nice": false, "zero": false}, "axis": null},
     "y2": {"datum": 1}}},
   {"data": {"values": [{}]}, "mark": {"type": "rule", "stroke": "#444", "strokeWidth": 1.5},
    "encoding": {
     "x": {"datum": 0, "type": "quantitative", "scale": {"domain": [0, 3.85], "range": [886.5, 2032.6], "nice": false, "zero": false},
           "axis": {"orient": "top", "offset": -1225, "values": [0.5,1,1.5,2,2.5,3,3.5], "tickSize": -7, "labels": false, "title": null}},
     "x2": {"datum": 3.85},
     "y": {"datum": 2, "type": "quantitative", "scale": {"domain": [0, 2], "range": [1274, 1225], "nice": false, "zero": false}, "axis": null}}},
   {"data": {"values": [{}]}, "mark": {"type": "rule", "stroke": "#444", "strokeWidth": 1.5},
    "encoding": {
     "x": {"datum": 0, "type": "quantitative", "scale": {"domain": [0, 3.85], "range": [886.5, 2032.6], "nice": false, "zero": false}, "axis": null},
     "x2": {"datum": 3.85},
     "y": {"datum": 0, "type": "quantitative", "scale": {"domain": [0, 2], "range": [1274, 1225], "nice": false, "zero": false}, "axis": null}}},
   {"data": {"values": [{}]}, "mark": {"type": "rule", "stroke": "#444", "strokeWidth": 1.5},
    "encoding": {
     "x": {"datum": 0, "type": "quantitative", "scale": {"domain": [0, 3.85], "range": [886.5, 2032.6], "nice": false, "zero": false}, "axis": null},
     "y": {"datum": 0, "type": "quantitative", "scale": {"domain": [0, 2], "range": [1274, 1225], "nice": false, "zero": false}, "axis": null},
     "y2": {"datum": 2}}}
  ],
  "resolve": {"scale": {"x": "shared", "y": "shared"}, "axis": {"x": "independent", "y": "independent"}}
 }
],
"resolve": {"scale": {"x": "independent", "y": "independent"}, "axis": {"x": "independent", "y": "independent"}}
}
